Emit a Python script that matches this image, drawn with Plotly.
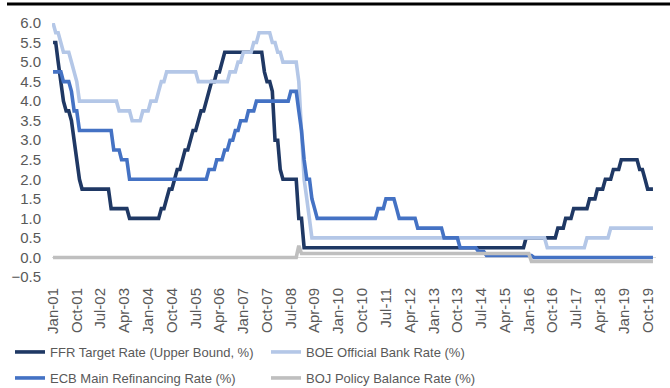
import pandas as pd
import plotly.graph_objects as go

# Monthly policy rates, Jan-2001 .. Dec-2019 (month-end values, %)
months = pd.date_range("2001-01-01", "2019-12-01", freq="MS")

ffr = (
    [5.5, 5.5, 5.0, 4.5, 4.0, 3.75, 3.75, 3.5, 3.0, 2.5, 2.0, 1.75]          # 2001
    + [1.75] * 10 + [1.25, 1.25]                                            # 2002
    + [1.25] * 5 + [1.0] * 7                                                # 2003
    + [1.0] * 5 + [1.25, 1.25, 1.5, 1.75, 1.75, 2.0, 2.25]                  # 2004
    + [2.25, 2.5, 2.75, 2.75, 3.0, 3.25, 3.25, 3.5, 3.75, 3.75, 4.0, 4.25]  # 2005
    + [4.5, 4.5, 4.75, 4.75, 5.0] + [5.25] * 7                              # 2006
    + [5.25] * 8 + [4.75, 4.5, 4.5, 4.25]                                   # 2007
    + [3.0, 3.0, 2.25, 2.0, 2.0, 2.0, 2.0, 2.0, 2.0, 1.0, 1.0, 0.25]        # 2008
    + [0.25] * 72                                                           # 2009-2014
    + [0.25] * 11 + [0.5]                                                   # 2015
    + [0.5] * 11 + [0.75]                                                   # 2016
    + [0.75, 0.75, 1.0, 1.0, 1.0] + [1.25] * 6 + [1.5]                      # 2017
    + [1.5, 1.5, 1.75, 1.75, 1.75, 2.0, 2.0, 2.0, 2.25, 2.25, 2.25, 2.5]    # 2018
    + [2.5] * 6 + [2.25, 2.25, 2.0, 1.75, 1.75, 1.75]                       # 2019
)

boe = (
    [6.0, 5.75, 5.75, 5.5, 5.25, 5.25, 5.25, 5.0, 4.75, 4.5, 4.0, 4.0]      # 2001
    + [4.0] * 12                                                            # 2002
    + [4.0] + [3.75] * 5 + [3.5] * 4 + [3.75, 3.75]                         # 2003
    + [3.75, 4.0, 4.0, 4.0, 4.25, 4.5, 4.5] + [4.75] * 5                    # 2004
    + [4.75] * 7 + [4.5] * 5                                                # 2005
    + [4.5] * 7 + [4.75, 4.75, 4.75, 5.0, 5.0]                              # 2006
    + [5.25, 5.25, 5.25, 5.25, 5.5, 5.5] + [5.75] * 5 + [5.5]               # 2007
    + [5.5, 5.25, 5.25] + [5.0] * 6 + [4.5, 3.0, 2.0]                       # 2008
    + [1.5, 1.0] + [0.5] * 10                                               # 2009
    + [0.5] * 72                                                            # 2010-2015
    + [0.5] * 7 + [0.25] * 5                                                # 2016
    + [0.25] * 10 + [0.5, 0.5]                                              # 2017
    + [0.5] * 7 + [0.75] * 5                                                # 2018
    + [0.75] * 12                                                           # 2019
)

ecb = (
    [4.75, 4.75, 4.75, 4.75, 4.5, 4.5, 4.5, 4.25, 3.75, 3.75, 3.25, 3.25]   # 2001
    + [3.25] * 11 + [2.75]                                                  # 2002
    + [2.75, 2.75, 2.5, 2.5, 2.5] + [2.0] * 7                               # 2003
    + [2.0] * 12                                                            # 2004
    + [2.0] * 11 + [2.25]                                                   # 2005
    + [2.25, 2.25, 2.5, 2.5, 2.5, 2.75, 2.75, 3.0, 3.0, 3.25, 3.25, 3.5]    # 2006
    + [3.5, 3.5, 3.75, 3.75, 3.75] + [4.0] * 7                              # 2007
    + [4.0] * 6 + [4.25, 4.25, 4.25, 3.75, 3.25, 2.5]                       # 2008
    + [2.0, 2.0, 1.5, 1.25] + [1.0] * 8                                     # 2009
    + [1.0] * 12                                                            # 2010
    + [1.0] * 3 + [1.25, 1.25, 1.25, 1.5, 1.5, 1.5, 1.5, 1.25, 1.0]         # 2011
    + [1.0] * 6 + [0.75] * 6                                                # 2012
    + [0.75] * 4 + [0.5] * 6 + [0.25, 0.25]                                 # 2013
    + [0.25] * 5 + [0.15, 0.15, 0.15] + [0.05] * 4                          # 2014
    + [0.05] * 12                                                           # 2015
    + [0.05, 0.05] + [0.0] * 10                                             # 2016
    + [0.0] * 36                                                            # 2017-2019
)

boj = (
    [0.0] * 84                                                              # 2001-2007
    + [0.0] * 9 + [0.3, 0.1, 0.1]                                           # 2008
    + [0.1] * 84                                                            # 2009-2015
    + [0.1] + [-0.1] * 11                                                   # 2016
    + [-0.1] * 36                                                           # 2017-2019
)

tick_labels = [
    "Jan-01", "Oct-01", "Jul-02", "Apr-03", "Jan-04", "Oct-04", "Jul-05",
    "Apr-06", "Jan-07", "Oct-07", "Jul-08", "Apr-09", "Jan-10", "Oct-10",
    "Jul-11", "Apr-12", "Jan-13", "Oct-13", "Jul-14", "Apr-15", "Jan-16",
    "Oct-16", "Jul-17", "Apr-18", "Jan-19", "Oct-19",
]
tick_dates = [pd.to_datetime(t, format="%b-%y") for t in tick_labels]

series = [
    ("FFR Target Rate (Upper Bound, %)", ffr, "#1F3864", "legend"),
    ("BOE Official Bank Rate (%)", boe, "#B4C7E7", "legend"),
    ("ECB Main Refinancing Rate (%)", ecb, "#4472C4", "legend2"),
    ("BOJ Policy Balance Rate (%)", boj, "#BFBFBF", "legend2"),
]

W, H = 670, 388
L, R, T, B = 52, 14, 23, 111
FONT = "Liberation Sans, Arial, sans-serif"
TXT = "#595959"

fig = go.Figure()
for name, vals, color, leg in series:
    fig.add_trace(go.Scatter(
        x=months, y=vals, name=name, mode="lines",
        line=dict(color=color, width=3.6, shape="linear"),
        legend=leg,
    ))

legend_common = dict(
    orientation="h", xref="container", yref="container",
    xanchor="left", yanchor="middle",
    font=dict(family=FONT, size=13, color=TXT),
    entrywidth=211, entrywidthmode="pixels",
    bgcolor="rgba(0,0,0,0)", borderwidth=0,
    itemwidth=30, traceorder="normal",
)

fig.update_layout(
    width=W, height=H,
    margin=dict(l=L, r=R, t=T, b=B, pad=0, autoexpand=False),
    paper_bgcolor="white", plot_bgcolor="white",
    font=dict(family=FONT, size=13, color=TXT),
    showlegend=True,
    legend=dict(x=10 / W, y=1 - 352 / H, **legend_common),
    legend2=dict(x=10 / W, y=1 - 378 / H, **legend_common),
    xaxis=dict(
        type="date",
        range=["2000-12-20", "2020-01-05"],
        tickmode="array", tickvals=tick_dates, ticktext=tick_labels,
        tickangle=-90, showgrid=False, showline=False, zeroline=False,
        ticks="", ticklabelstandoff=7, automargin=False,
        tickfont=dict(family=FONT, size=15, color=TXT),
    ),
    yaxis=dict(
        range=[-0.5, 6.0], dtick=0.5, tick0=0, tickformat=".1f",
        showgrid=False, showline=False,
        zeroline=True, zerolinecolor="#D9D9D9", zerolinewidth=1,
        ticks="", ticklabelstandoff=10, automargin=False,
        tickfont=dict(family=FONT, size=15, color=TXT),
    ),
)

# Black rule across the top of the figure
pw = W - L - R
ph = H - T - B
fig.add_shape(
    type="line", xref="paper", yref="paper",
    x0=(7 - L) / pw, x1=(W - L) / pw,
    y0=(H - B - 4) / ph, y1=(H - B - 4) / ph,
    line=dict(color="black", width=3),
)

fig.write_html("out.html")
